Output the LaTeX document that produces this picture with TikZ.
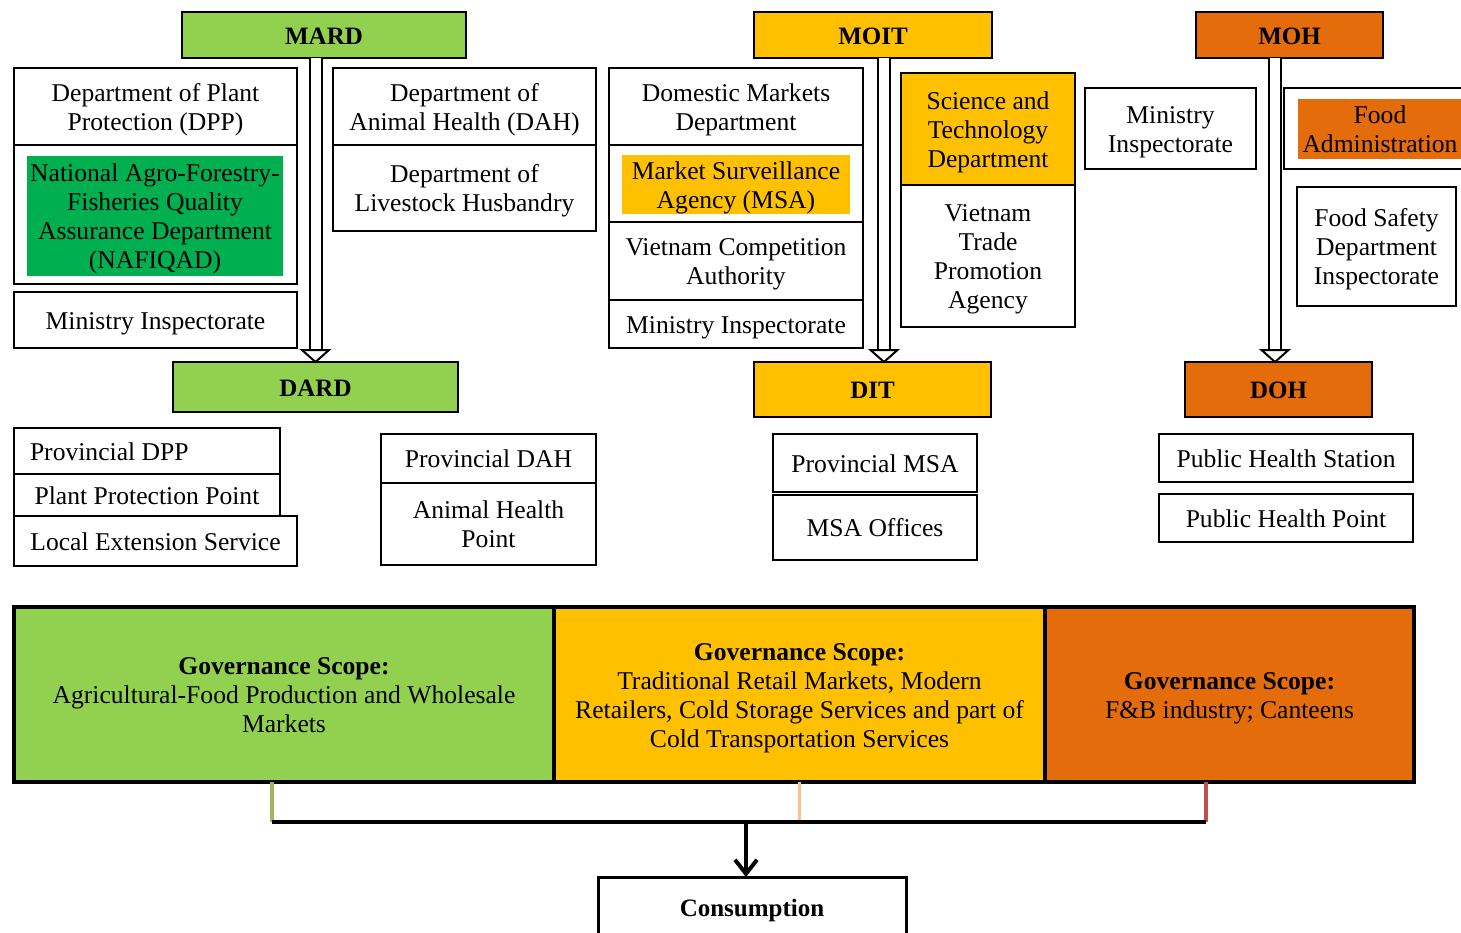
\documentclass[tikz,border=0pt]{standalone}
\usepackage{fontspec}
\setmainfont{Liberation Serif}
\usetikzlibrary{arrows.meta,calc}
\definecolor{lgreen}{HTML}{92D050}
\definecolor{dgreen}{HTML}{00B050}
\definecolor{gold}{HTML}{FFC000}
\definecolor{orng}{HTML}{E46C0A}
\definecolor{stubg}{HTML}{9BBB59}
\definecolor{stuby}{HTML}{FAC090}
\definecolor{stubr}{HTML}{C0504D}
\newcommand\fsz{\fontsize{12.8}{14.5}\selectfont}
\newcommand\hsz{\fontsize{12.5}{14.5}\selectfont\bfseries}
\newcommand\ml[2][c]{\raisebox{-1.8pt}[\height][\depth]{\begin{tabular}{@{}#1@{}}#2\end{tabular}}}
\begin{document}
\begin{tikzpicture}[x=0.5pt,y=-0.5pt,
  box/.style={draw, line width=1pt, inner sep=0pt, outer sep=0pt, font=\fsz},
  fillbox/.style={inner sep=0pt, outer sep=0pt, font=\fsz},
  head/.style={draw, line width=1pt, inner sep=0pt, outer sep=0pt, font=\hsz},
  band/.style={draw, line width=2pt, inner sep=0pt, outer sep=0pt, font=\fsz},
  shaft/.style={line width=1pt, double distance=5pt},
  tri/.style={line width=1pt, fill=white, line join=miter},
  stub/.style={line width=1.6pt},
]
\useasboundingbox (0,0) rectangle (1461,932);

% ministries
\node[head, fill=lgreen, minimum width=142pt, minimum height=23pt] (mard) at (324,35) {\ml{MARD}};
\node[head, fill=gold, minimum width=119pt, minimum height=23pt] (moit) at (873,35) {\ml{MOIT}};
\node[head, fill=orng, minimum width=93.5pt, minimum height=23pt] (moh) at (1289.5,35) {\ml{MOH}};

% MARD units
\node[box, minimum width=141.5pt, minimum height=38.5pt] (dpp) at (155.5,106.5) {\ml{Department of Plant\\Protection (DPP)}};
\node[box, minimum width=141.5pt, minimum height=69.5pt] (nafo) at (155.5,214.5) {};
\node[fillbox, fill=dgreen, minimum width=128pt, minimum height=60pt] (naf) at (155,216) {\ml{National Agro-Forestry-\\Fisheries Quality\\Assurance Department\\(NAFIQAD)}};
\node[box, minimum width=141.5pt, minimum height=28pt] (mi1) at (155.5,320) {\ml{Ministry Inspectorate}};
\node[box, minimum width=131.5pt, minimum height=38.5pt] (dah) at (464.5,106.5) {\ml{Department of\\Animal Health (DAH)}};
\node[box, minimum width=131.5pt, minimum height=43pt] (dlh) at (464.5,188) {\ml{Department of\\Livestock Husbandry}};

% MOIT units
\node[box, minimum width=127pt, minimum height=38.5pt] (dmd) at (736,106.5) {\ml{Domestic Markets\\Department}};
\node[box, minimum width=127pt, minimum height=38.5pt] (msao) at (736,183.5) {};
\node[fillbox, fill=gold, minimum width=114pt, minimum height=29.5pt] (msa) at (736,184.5) {\ml{Market Surveillance\\Agency (MSA)}};
\node[box, minimum width=127pt, minimum height=39pt] (vca) at (736,261) {\ml{Vietnam Competition\\Authority}};
\node[box, minimum width=127pt, minimum height=24pt] (mi2) at (736,324) {\ml{Ministry Inspectorate}};
\node[box, fill=gold, minimum width=87pt, minimum height=56pt] (std) at (988,129) {\ml{Science and\\Technology\\Department}};
\node[box, minimum width=87pt, minimum height=71pt] (vtpa) at (988,256) {\ml{Vietnam\\Trade\\Promotion\\Agency}};

% MOH units
\node[box, minimum width=85.5pt, minimum height=40.5pt] (mi3) at (1170.5,128.5) {\ml{Ministry\\Inspectorate}};
\node[box, minimum width=95.5pt, minimum height=40.5pt] (fao) at (1379.5,128.5) {};
\node[fillbox, fill=orng, minimum width=82pt, minimum height=30pt] (fa) at (1380,129) {\ml{Food\\Administration}};
\node[box, minimum width=79.5pt, minimum height=59.5pt] (fsdi) at (1376.5,246.5) {\ml{Food Safety\\Department\\Inspectorate}};

% departments
\node[head, fill=lgreen, minimum width=142.5pt, minimum height=25pt] (dard) at (315.5,387) {\ml{DARD}};
\node[head, fill=gold, minimum width=118.5pt, minimum height=27.5pt] (dit) at (872.5,389.5) {\ml{DIT}};
\node[head, fill=orng, minimum width=93.5pt, minimum height=27.5pt] (doh) at (1278.5,389.5) {\ml{DOH}};

% double arrows
\draw[shaft] (mard.south -| dard.north) -- ($(dard.north)+(0,-12)$);
\draw[tri] (dard.north) -- ++(-13.5,-12) -- ++(27,0) -- cycle;
\coordinate (a2) at (dit.north -| 884,0);
\draw[shaft] (moit.south -| a2) -- ($(a2)+(0,-12)$);
\draw[tri] (a2) -- ++(-13.5,-12) -- ++(27,0) -- cycle;
\coordinate (a3) at (doh.north -| 1275,0);
\draw[shaft] (moh.south -| a3) -- ($(a3)+(0,-12)$);
\draw[tri] (a3) -- ++(-13.5,-12) -- ++(27,0) -- cycle;

% local units
\node[box, minimum width=133pt, minimum height=23pt] (pdpp) at (147,451) {\ml[p{125pt}]{\hspace*{4pt}Provincial DPP}};
\node[box, minimum width=133pt, minimum height=21pt] (ppp) at (147,495) {\ml{Plant Protection Point}};
\node[box, minimum width=141.5pt, minimum height=25pt] (les) at (155.5,541) {\ml{Local Extension Service}};
\node[box, minimum width=107.5pt, minimum height=24.5pt] (pdah) at (488.5,458.5) {\ml{Provincial DAH}};
\node[box, minimum width=107.5pt, minimum height=41pt] (ahp) at (488.5,524) {\ml{Animal Health\\Point}};
\node[box, minimum width=102pt, minimum height=29pt] (pmsa) at (875,463) {\ml{Provincial MSA}};
\node[box, minimum width=102pt, minimum height=32.5pt] (msaoff) at (875,527.5) {\ml{MSA Offices}};
\node[box, minimum width=127pt, minimum height=24pt] (phs) at (1286,458) {\ml{Public Health Station}};
\node[box, minimum width=127pt, minimum height=24pt] (php) at (1286,518) {\ml{Public Health Point}};

% governance band
\node[band, fill=lgreen, minimum width=270pt, minimum height=87.5pt] (gg) at (284,694.5) {\ml{\textbf{Governance Scope:}\\Agricultural-Food Production and Wholesale\\Markets}};
\node[band, fill=gold, minimum width=245.5pt, minimum height=87.5pt] (gy) at (799.5,694.5) {\ml{\textbf{Governance Scope:}\\Traditional Retail Markets, Modern\\Retailers, Cold Storage Services and part of\\Cold Transportation Services}};
\node[band, fill=orng, minimum width=184.5pt, minimum height=87.5pt] (go) at (1229.5,694.5) {\ml{\textbf{Governance Scope:}\\F\&B industry; Canteens}};

% consumption
\node[draw, line width=1.5pt, inner sep=0pt, outer sep=0pt, minimum width=154pt, minimum height=30pt, font=\hsz] (cons) at (752,907) {\ml{Consumption}};

\coordinate (j1) at (272,822);
\coordinate (j2) at (1206,822);
\coordinate (jm) at (746,822);
\draw[stub, stubg] (gg.south -| j1) -- (j1);
\draw[stub, stuby] (gy.south) -- (gy.south |- j1);
\draw[stub, stubr] (go.south -| j2) -- (j2);
\draw[line width=2pt] (j1) -- (j2);
\draw[line width=2pt, -{Straight Barb[length=7pt,width=11pt]}] (jm) -- (cons.north -| jm);
\end{tikzpicture}
\end{document}
